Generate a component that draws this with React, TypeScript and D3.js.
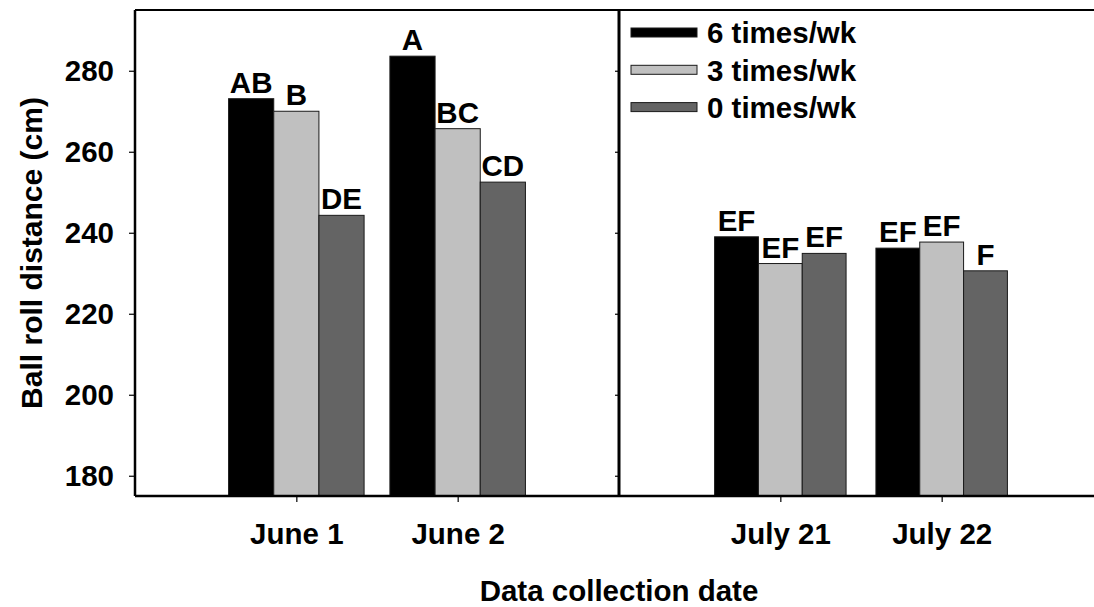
import React, { useEffect, useRef } from "react";
import * as d3 from "d3";

// data
const leftDates = ["June 1", "June 2"];
const rightDates = ["July 21", "July 22"];
const seriesNames = ["6 times/wk", "3 times/wk", "0 times/wk"];
const sixTimes = [273.1, 283.6, 239.0, 236.2];
const threeTimes = [270.0, 265.7, 232.4, 237.7];
const zeroTimes = [244.3, 252.5, 234.9, 230.6];
const sixLetters = ["AB", "A", "EF", "EF"];
const threeLetters = ["B", "BC", "EF", "EF"];
const zeroLetters = ["DE", "CD", "EF", "F"];
const yTicks = [180, 200, 220, 240, 260, 280];

const colors = ["#000000", "#c0c0c0", "#646464"];
const FONT = "'Liberation Sans', Arial, Helvetica, sans-serif";
const FS = "29.5px";

const App = () => {
  const svgRef = useRef<SVGSVGElement>(null);

  useEffect(() => {
    document.body.style.margin = "0";
    const svg = d3.select(svgRef.current);
    svg.selectAll("*").remove();

    const width = 1094;
    const top = 10;
    const bottom = 496;
    const left = 135;
    const mid = 619;
    const right = mid + (mid - left);

    const y = d3.scaleLinear().domain([175, 295]).range([bottom, top]);

    const allDates = [...leftDates, ...rightDates];
    const series = [sixTimes, threeTimes, zeroTimes];
    const letters = [sixLetters, threeLetters, zeroLetters];
    const rows = allDates.map((date, i) => ({
      date,
      bars: seriesNames.map((name, s) => ({
        name,
        s,
        value: series[s][i],
        letter: letters[s][i],
      })),
    }));

    const panels = [
      { dates: leftDates, x0: left, x1: mid, groupFrac: 0.84 },
      { dates: rightDates, x0: mid, x1: right, groupFrac: 0.815 },
    ];

    const g = svg.append("g");

    panels.forEach((p, pi) => {
      const x = d3.scalePoint().domain(p.dates).range([p.x0, p.x1]).padding(1);
      const gw = x.step() * p.groupFrac;
      const xb = d3
        .scaleBand()
        .domain(seriesNames)
        .range([-gw / 2, gw / 2])
        .padding(0);

      const groups = g
        .selectAll(`.grp${pi}`)
        .data(rows.filter((r) => p.dates.includes(r.date)))
        .enter()
        .append("g")
        .attr("class", `grp${pi}`)
        .attr("transform", (d) => `translate(${x(d.date)},0)`);

      groups
        .selectAll("rect")
        .data((d) => d.bars)
        .enter()
        .append("rect")
        .attr("x", (d) => xb(d.name)!)
        .attr("y", (d) => y(d.value))
        .attr("width", xb.bandwidth())
        .attr("height", (d) => bottom - y(d.value))
        .attr("fill", (d) => colors[d.s])
        .attr("stroke", "#1a1a1a")
        .attr("stroke-width", 1);

      groups
        .selectAll("text")
        .data((d) => d.bars)
        .enter()
        .append("text")
        .attr("x", (d) => xb(d.name)! + xb.bandwidth() / 2)
        .attr("y", (d) => y(d.value) - 6)
        .attr("text-anchor", "middle")
        .style("font", `bold ${FS} ${FONT}`)
        .text((d) => d.letter);

      // x axis
      const xAxis = g
        .append("g")
        .attr("transform", `translate(0,${bottom})`)
        .call(d3.axisBottom(x).tickSize(6).tickPadding(21));
      xAxis.select(".domain").remove();
      xAxis.selectAll("line").attr("stroke", "#000").attr("stroke-width", 1.2);
      xAxis
        .selectAll("text")
        .style("font", `bold ${FS} ${FONT}`)
        .attr("fill", "#000");

      // y axis for this panel
      const yAxis = g
        .append("g")
        .attr("transform", `translate(${p.x0},0)`)
        .call(
          d3
            .axisLeft(y)
            .tickValues(yTicks)
            .tickSize(pi === 0 ? 6 : 4)
            .tickPadding(15)
            .tickFormat((d) => (pi === 0 ? String(d) : ""))
        );
      yAxis.select(".domain").remove();
      yAxis.selectAll("line").attr("stroke", "#000").attr("stroke-width", 1.2);
      yAxis
        .selectAll("text")
        .style("font", `bold ${FS} ${FONT}`)
        .attr("fill", "#000");
    });

    // frame
    const frame = g.append("g").attr("stroke", "#000");
    frame.append("line").attr("x1", left).attr("x2", width).attr("y1", top).attr("y2", top).attr("stroke-width", 2);
    frame.append("line").attr("x1", left).attr("x2", width).attr("y1", bottom).attr("y2", bottom).attr("stroke-width", 2.5);
    frame.append("line").attr("x1", left).attr("x2", left).attr("y1", top).attr("y2", bottom).attr("stroke-width", 2.5);
    frame.append("line").attr("x1", mid).attr("x2", mid).attr("y1", top).attr("y2", bottom).attr("stroke-width", 3);

    // legend
    const legend = g
      .selectAll(".legend")
      .data(seriesNames)
      .enter()
      .append("g")
      .attr("class", "legend")
      .attr("transform", (d, i) => `translate(${mid + 12},${28 + i * 37.3})`);
    legend
      .append("rect")
      .attr("width", 66)
      .attr("height", 9)
      .attr("fill", (d, i) => colors[i])
      .attr("stroke", "#1a1a1a")
      .attr("stroke-width", 1);
    legend
      .append("text")
      .attr("x", 76)
      .attr("y", 15.3)
      .style("font", `bold ${FS} ${FONT}`)
      .text((d) => d);

    // axis titles
    g.append("text")
      .attr("transform", `translate(42,${(top + bottom) / 2}) rotate(-90)`)
      .attr("text-anchor", "middle")
      .style("font", `bold 30px ${FONT}`)
      .text("Ball roll distance (cm)");
    g.append("text")
      .attr("x", (left + right) / 2)
      .attr("y", 601)
      .attr("text-anchor", "middle")
      .style("font", `bold ${FS} ${FONT}`)
      .text("Data collection date");
  }, []);

  return (
    <svg
      ref={svgRef}
      width={1094}
      height={607}
      style={{ display: "block", background: "#fff", overflow: "hidden" }}
    />
  );
};

export default App;
